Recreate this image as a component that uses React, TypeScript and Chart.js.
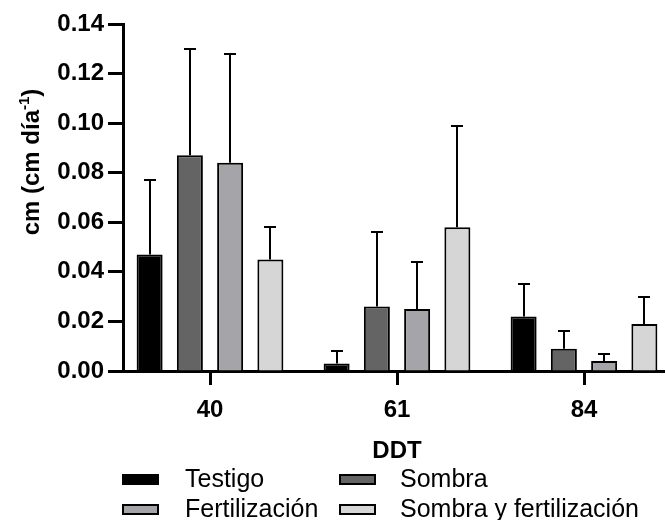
import React, { useEffect, useRef } from "react";
import { Chart, registerables } from "chart.js";

Chart.register(...registerables);

const categories = ["40", "61", "84"];
const seriesNames = ["Testigo", "Sombra", "Fertilización", "Sombra y fertilización"];
const testigo = [0.047, 0.003, 0.022];
const testigoSD = [0.030, 0.005, 0.013];
const sombra = [0.087, 0.026, 0.009];
const sombraSD = [0.043, 0.030, 0.007];
const fertilizacion = [0.084, 0.025, 0.004];
const fertilizacionSD = [0.044, 0.019, 0.003];
const sombraFert = [0.045, 0.058, 0.019];
const sombraFertSD = [0.013, 0.041, 0.011];
const yTicks = [0, 0.02, 0.04, 0.06, 0.08, 0.1, 0.12, 0.14];

const colors = ["#000000", "#646464", "#a5a5a9", "#d6d6d6"];
const FONT = "'Liberation Sans', Arial, sans-serif";

const values = [testigo, sombra, fertilizacion, sombraFert];
const errors = [testigoSD, sombraSD, fertilizacionSD, sombraFertSD];

const errorBarPlugin = {
  id: "errorBars",
  afterDatasetsDraw(chart: any) {
    const ctx = chart.ctx;
    const y = chart.scales.y;
    ctx.save();
    ctx.strokeStyle = "#000";
    ctx.lineWidth = 2;
    chart.data.datasets.forEach((ds: any, di: number) => {
      const meta = chart.getDatasetMeta(di);
      meta.data.forEach((el: any, i: number) => {
        const top = Math.round(y.getPixelForValue(ds.data[i].y + ds.errors[i]));
        const cx = Math.round(el.x);
        ctx.beginPath();
        ctx.moveTo(cx, el.y);
        ctx.lineTo(cx, top);
        ctx.moveTo(cx - 6, top);
        ctx.lineTo(cx + 6, top);
        ctx.stroke();
      });
    });
    ctx.restore();
  },
};

const decorPlugin = {
  id: "decor",
  afterDraw(chart: any) {
    const ctx = chart.ctx;
    const xs = chart.scales.x;
    ctx.save();
    ctx.fillStyle = "#000";
    // y title with superscript
    ctx.translate(31, 162);
    ctx.rotate(-Math.PI / 2);
    const main = "cm (cm día";
    const sup = "-1";
    const end = ")";
    ctx.font = `bold 24px ${FONT}`;
    const wMain = ctx.measureText(main).width;
    const wEnd = ctx.measureText(end).width;
    ctx.font = `bold 15px ${FONT}`;
    const wSup = ctx.measureText(sup).width;
    const total = wMain + wSup + wEnd;
    const x0 = -total / 2;
    ctx.textBaseline = "alphabetic";
    ctx.textAlign = "left";
    ctx.font = `bold 24px ${FONT}`;
    ctx.fillText(main, x0, 8);
    ctx.font = `bold 15px ${FONT}`;
    ctx.fillText(sup, x0 + wMain, -2);
    ctx.font = `bold 24px ${FONT}`;
    ctx.fillText(end, x0 + wMain + wSup, 8);
    ctx.restore();

    // x title
    ctx.save();
    ctx.fillStyle = "#000";
    ctx.font = `bold 24px ${FONT}`;
    ctx.textAlign = "center";
    ctx.textBaseline = "middle";
    ctx.fillText("DDT", xs.getPixelForValue(1), 451);
    ctx.restore();

    // legend
    ctx.save();
    const boxX = [122, 339];
    const textX = [185, 400];
    const rowY = [479.5, 509.5];
    chart.data.datasets.forEach((ds: any, i: number) => {
      const col = i % 2;
      const row = Math.floor(i / 2);
      ctx.fillStyle = ds.backgroundColor;
      ctx.fillRect(boxX[col], rowY[row] - 5.5, 37, 11);
      ctx.strokeStyle = "#000";
      ctx.lineWidth = 2;
      ctx.strokeRect(boxX[col] + 1, rowY[row] - 4.5, 35, 9);
      ctx.fillStyle = "#000";
      ctx.font = `25px ${FONT}`;
      ctx.textAlign = "left";
      ctx.textBaseline = "middle";
      ctx.fillText(ds.label, textX[col], rowY[row] + 0.5);
    });
    ctx.restore();
  },
};

export default function App() {
  const ref = useRef<HTMLCanvasElement | null>(null);
  useEffect(() => {
    if (!ref.current) return;
    const leftPx = 123;
    const firstCenter = 210;
    const spacing = 187;
    const width = 665;
    const xMin = -(firstCenter - leftPx) / spacing;
    const xMax = xMin + (width - leftPx) / spacing;
    const chart = new Chart(ref.current, {
      type: "bar",
      data: {
        datasets: seriesNames.map((name, si) => ({
          label: name,
          data: values[si].map((v, i) => ({ x: i, y: v })),
          errors: errors[si],
          backgroundColor: colors[si],
          borderColor: "#000",
          borderWidth: 2,
          borderSkipped: "bottom",
          categoryPercentage: 0.861,
          barPercentage: 0.646,
        })) as any,
      },
      options: {
        animation: false,
        responsive: false,
        maintainAspectRatio: false,
        layout: { padding: { top: 24, right: 0, bottom: 0, left: 0 } },
        plugins: { legend: { display: false }, tooltip: { enabled: false } },
        scales: {
          x: {
            type: "linear",
            min: xMin,
            max: xMax,
            offset: false,
            z: 1,
            afterFit: (s: any) => {
              s.height = 520 - 371;
            },
            afterBuildTicks: (s: any) => {
              s.ticks = categories.map((_, i) => ({ value: i }));
            },
            grid: {
              offset: false,
              drawOnChartArea: false,
              drawTicks: true,
              tickLength: 14,
              tickWidth: 3,
              tickColor: "#000",
            },
            border: { display: true, width: 3, color: "#000" },
            ticks: {
              color: "#000",
              font: { family: FONT, size: 24, weight: "bold" },
              padding: 11,
              maxRotation: 0,
              autoSkip: false,
              callback: (v: any) => categories[v] ?? "",
            },
          },
          y: {
            min: 0,
            max: 0.14,
            z: 1,
            afterFit: (s: any) => {
              s.width = 123;
            },
            afterBuildTicks: (s: any) => {
              s.ticks = yTicks.map((v) => ({ value: v }));
            },
            grid: {
              drawOnChartArea: false,
              drawTicks: true,
              tickLength: 15,
              tickWidth: 3,
              tickColor: "#000",
            },
            border: { display: true, width: 3, color: "#000" },
            ticks: {
              color: "#000",
              font: { family: FONT, size: 24, weight: "bold" },
              padding: 4,
              callback: (v: any) => Number(v).toFixed(2),
            },
          },
        },
      },
      plugins: [errorBarPlugin, decorPlugin],
    } as any);
    return () => chart.destroy();
  }, []);
  return (
    <div style={{ position: "absolute", left: 0, top: 0, width: 665, height: 520 }}>
      <canvas ref={ref} width={665} height={520} style={{ width: 665, height: 520 }} />
    </div>
  );
}
